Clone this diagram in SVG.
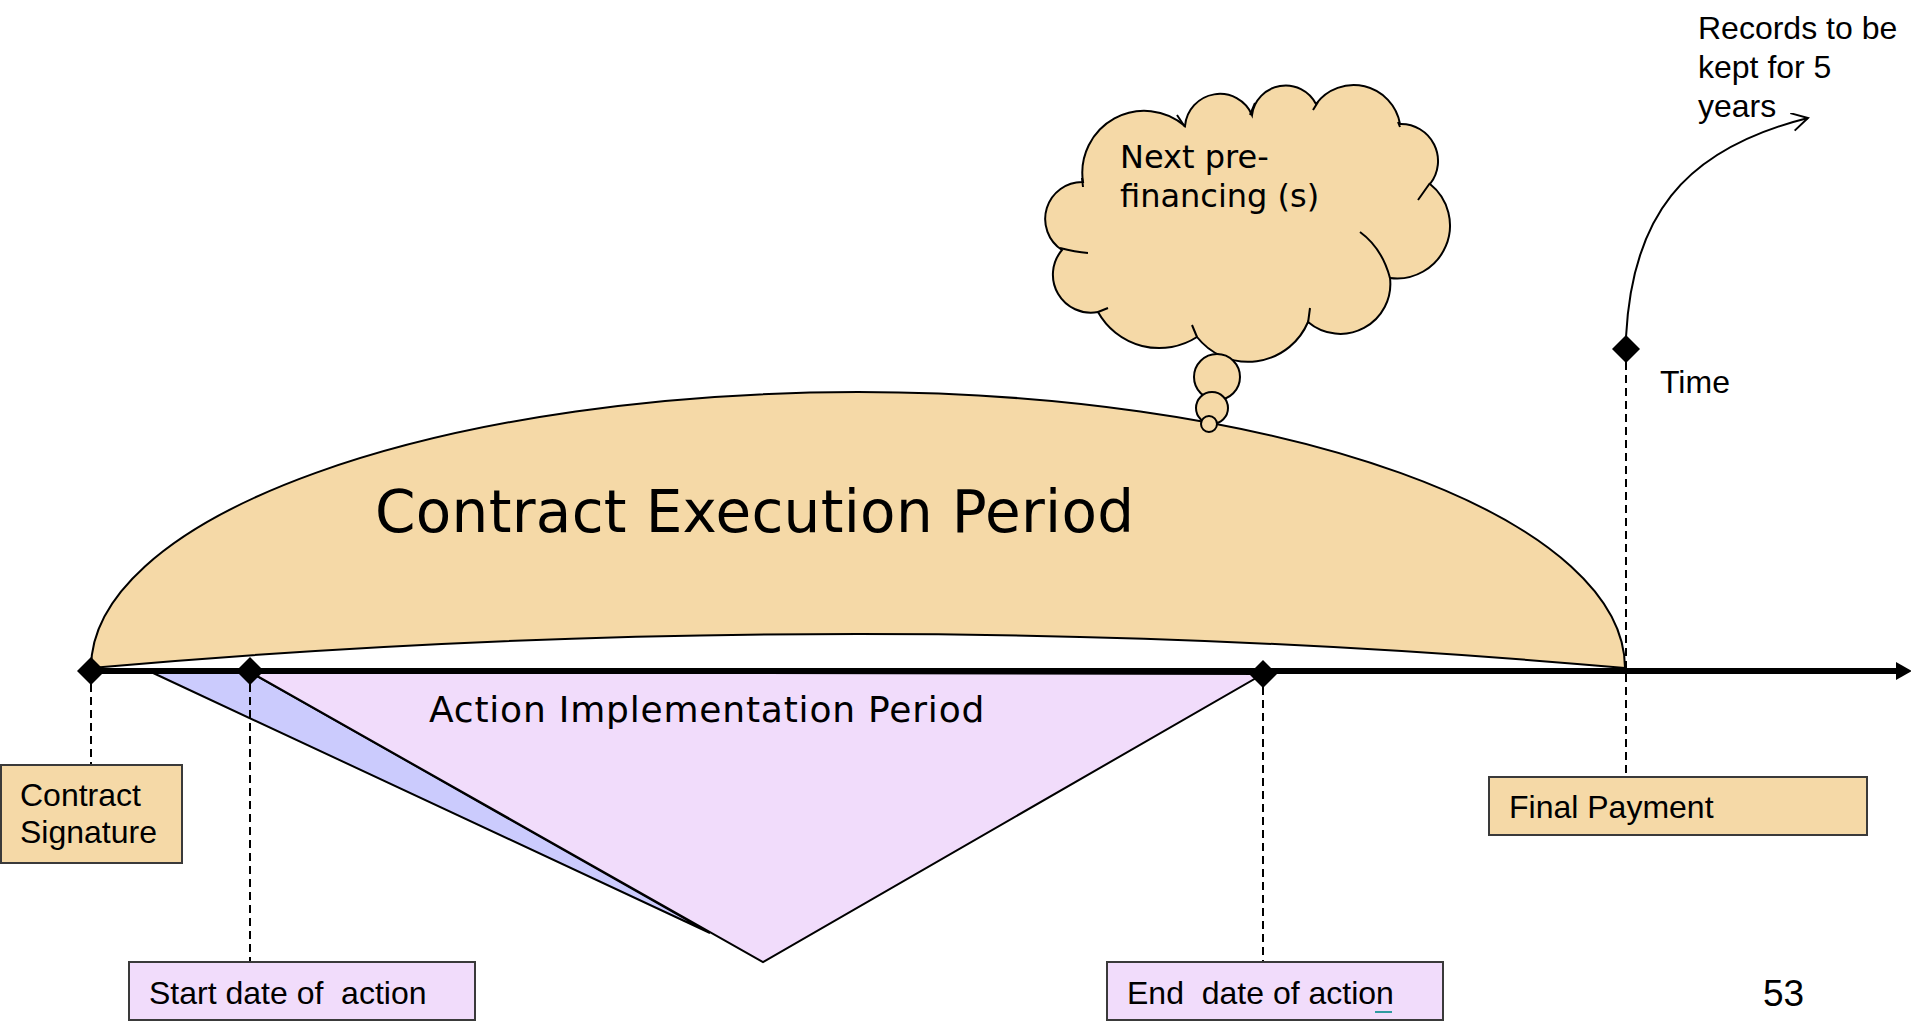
<svg xmlns="http://www.w3.org/2000/svg" width="1911" height="1024" viewBox="0 0 1911 1024">
<defs>
<style>
.tan{fill:#F5D9A7;stroke:#000;stroke-width:2}
.lav{fill:#F1DCFB;stroke:#000;stroke-width:2}
.blu{fill:#CBCBFD;stroke:#000;stroke-width:2}
.boxt{fill:#F5D9A7;stroke:#3a3a3a;stroke-width:2}
.boxl{fill:#F1DCFB;stroke:#3a3a3a;stroke-width:2}
.dash{fill:none;stroke:#000;stroke-width:2;stroke-dasharray:8 5}
.dia{fill:#000}
.stub{fill:none;stroke:#000;stroke-width:2}
.v{font-family:"DejaVu Sans",Verdana,sans-serif;fill:#000}
.a{font-family:"Liberation Sans",Arial,sans-serif;fill:#000;font-size:32px}
</style>
<marker id="open" viewBox="0 0 20 20" refX="18" refY="9" markerWidth="20" markerHeight="20" markerUnits="userSpaceOnUse" orient="auto">
<path d="M2,0 L18,9 L2,18" fill="none" stroke="#000" stroke-width="2"/>
</marker>
<marker id="solid" viewBox="0 0 16 18" refX="2" refY="9" markerWidth="16" markerHeight="18" markerUnits="userSpaceOnUse" orient="auto">
<path d="M0,0 L16,9 L0,18 Z" fill="#000"/>
</marker>
</defs>
<rect width="1911" height="1024" fill="#fff"/>

<g id="action-period">
<polygon class="blu" points="151,672 250,672 710,933"/>
<polygon class="lav" points="250,672 1263,674 763,962"/>
<text class="v" x="429" y="722" font-size="36" letter-spacing="0.8">Action Implementation Period</text>
</g>

<g id="contract-period">
<path class="tan" d="M91,668 A767,276 0 0,1 1625,668 Q858,600 91,668 Z"/>
<text class="v" x="375" y="532" font-size="58" letter-spacing="0.3">Contract Execution Period</text>
</g>

<g id="cloud">
<path class="tan" d="M1083,182 A62,62 0 0,1 1185,126 A35,35 0 0,1 1252,115 A34,34 0 0,1 1316,104 A47,47 0 0,1 1400,124 A37,37 0 0,1 1430,184 A53,53 0 0,1 1390,278 A50,50 0 0,1 1308,322 A65,65 0 0,1 1197,337 A70,70 0 0,1 1098,312 A38,38 0 0,1 1062,250 A37,37 0 0,1 1083,182 Z"/>
<path class="stub" d="M1082,178 L1083,187 M1060,248 Q1075,252 1088,253 M1098,312 L1108,308 M1192,325 L1197,337 M1310,308 L1308,323 M1360,232 Q1382,248 1390,278 M1430,183 L1418,200 M1398,122 L1400,127 M1313,110 L1318,102 M1250,115 L1255,103 M1177,115 L1185,127"/>
<circle class="tan" cx="1217" cy="377" r="23"/>
<circle class="tan" cx="1212" cy="408" r="16"/>
<circle class="tan" cx="1209" cy="424" r="8"/>
<text class="v" font-size="32"><tspan x="1120" y="168">Next pre-</tspan><tspan x="1120" y="207">financing (s)</tspan></text>
</g>

<g id="connectors">
<line x1="91" y1="671" x2="1898" y2="671" stroke="#000" stroke-width="6" marker-end="url(#solid)"/>
<line class="dash" x1="91" y1="684" x2="91" y2="765"/>
<line class="dash" x1="250" y1="684" x2="250" y2="962"/>
<line class="dash" x1="1263" y1="687" x2="1263" y2="962"/>
<line class="dash" x1="1626" y1="362" x2="1626" y2="776"/>
<path d="M1626,337 C1632,220 1680,150 1808,118" fill="none" stroke="#000" stroke-width="2" marker-end="url(#open)"/>
</g>

<g id="diamonds">
<polygon class="dia" points="91,657 105,671 91,685 77,671"/>
<polygon class="dia" points="250,657 264,671 250,685 236,671"/>
<polygon class="dia" points="1263,660 1277,674 1263,688 1249,674"/>
<polygon class="dia" points="1626,335 1640,349 1626,363 1612,349"/>
</g>

<g id="contract-signature">
<rect class="boxt" x="1" y="765" width="181" height="98"/>
<text class="a"><tspan x="20" y="806">Contract</tspan><tspan x="20" y="843">Signature</tspan></text>
</g>

<g id="start-date">
<rect class="boxl" x="129" y="962" width="346" height="58"/>
<text class="a" x="149" y="1004" xml:space="preserve">Start date of  action</text>
</g>

<g id="end-date">
<rect class="boxl" x="1107" y="962" width="336" height="58"/>
<text class="a" x="1127" y="1004" xml:space="preserve">End  date of action</text>
<line x1="1375" y1="1012" x2="1392" y2="1012" stroke="#2E9AA0" stroke-width="2"/>
</g>

<g id="final-payment">
<rect class="boxt" x="1489" y="777" width="378" height="58"/>
<text class="a" x="1509" y="818">Final Payment</text>
</g>

<g id="labels">
<text class="a" x="1660" y="393" font-size="31">Time</text>
<text class="a"><tspan x="1698" y="39">Records to be</tspan><tspan x="1698" y="78">kept for 5</tspan><tspan x="1698" y="117">years</tspan></text>
<text class="a" x="1763" y="1006" style="font-size:37px">53</text>
</g>
</svg>
